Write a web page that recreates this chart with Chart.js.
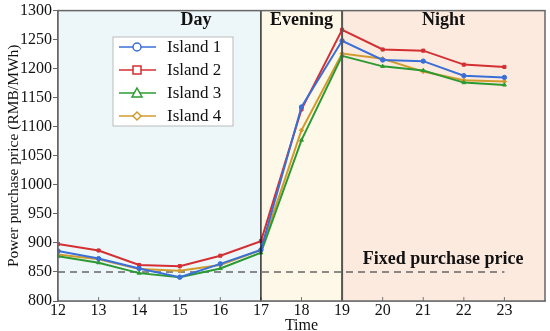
<!DOCTYPE html>
<html>
<head>
<meta charset="utf-8">
<script src="https://cdn.jsdelivr.net/npm/chart.js@4.4.1/dist/chart.umd.min.js"></script>
<style>
  html, body { margin: 0; padding: 0; background: #fff; }
  #wrap { width: 550px; height: 331px; }
</style>
</head>
<body>
<div id="wrap"><canvas id="chart" width="550" height="331"></canvas></div>
<script>
// data
var hours = [12, 13, 14, 15, 16, 17, 18, 19, 20, 21, 22, 23];
var island1 = [886, 873, 856, 841, 864, 888, 1134, 1248, 1215, 1213, 1188, 1185];
var island2 = [898, 887, 862, 860, 878, 903, 1130, 1267, 1233, 1231, 1207, 1203];
var island3 = [877, 866, 848, 841, 856, 883, 1077, 1222, 1204, 1197, 1176, 1172];
var island4 = [880, 872, 855, 852, 862, 888, 1094, 1226, 1217, 1195, 1180, 1178];
var fixedPrice = 850;
var fixedFrom = 12, fixedTo = 23;
var periodNames = ['Day', 'Evening', 'Night'];
var periodStarts = [12, 17, 19];
var periodEnds = [17, 19, 24];
var yTicks = [800, 850, 900, 950, 1000, 1050, 1100, 1150, 1200, 1250, 1300];

var periodColors = ['#edf6f9', '#fef8e8', '#fdeade'];
var serif = '"Liberation Serif", "DejaVu Serif", serif';

function pts(vals) {
    return hours.map(function(h, i) { return { x: h, y: vals[i] }; });
}

// background shading, dividers, frame and texts
var decor = {
    id: 'decor',
    beforeDatasetsDraw: function(chart) {
        var ctx = chart.ctx, a = chart.chartArea;
        var xs = chart.scales.x;
        ctx.save();
        for (var i = 0; i < periodNames.length; i++) {
            var x0 = xs.getPixelForValue(periodStarts[i]);
            var x1 = xs.getPixelForValue(periodEnds[i]);
            ctx.fillStyle = periodColors[i];
            ctx.fillRect(x0, a.top, x1 - x0, a.bottom - a.top);
        }
        // small inward ticks on the x axis
        ctx.strokeStyle = '#777';
        ctx.lineWidth = 1;
        hours.forEach(function(h) {
            var px = xs.getPixelForValue(h);
            ctx.beginPath(); ctx.moveTo(px, a.bottom); ctx.lineTo(px, a.bottom - 4); ctx.stroke();
        });
        ctx.restore();
    },
    afterDatasetsDraw: function(chart) {
        var ctx = chart.ctx, a = chart.chartArea;
        var xs = chart.scales.x, ys = chart.scales.y;
        ctx.save();
        // dividers
        var x17 = xs.getPixelForValue(periodStarts[1]);
        var x19 = xs.getPixelForValue(periodStarts[2]);
        ctx.strokeStyle = '#111';
        ctx.lineWidth = 1.3;
        ctx.beginPath(); ctx.moveTo(x17, a.top); ctx.lineTo(x17, a.bottom); ctx.stroke();
        ctx.strokeStyle = '#555';
        ctx.lineWidth = 2;
        ctx.beginPath(); ctx.moveTo(x19, a.top); ctx.lineTo(x19, a.bottom); ctx.stroke();
        // frame
        ctx.strokeStyle = '#666';
        ctx.lineWidth = 1.5;
        ctx.strokeRect(a.left, a.top, a.right - a.left, a.bottom - a.top);

        // period titles (Day sits right of its span's centre, as in the source)
        ctx.fillStyle = '#111';
        ctx.font = 'bold 18px ' + serif;
        ctx.textAlign = 'center';
        ctx.textBaseline = 'middle';
        var labelAt = [15.4, 18, 21.5];
        for (var i = 0; i < periodNames.length; i++) {
            ctx.fillText(periodNames[i], xs.getPixelForValue(labelAt[i]), a.top + 10);
        }
        ctx.font = 'bold 18px ' + serif;
        ctx.fillText('Fixed purchase price', xs.getPixelForValue(21.49), ys.getPixelForValue(fixedPrice) - 13);

        // legend box
        var lx = 113, ly = 37, lw = 120, lh = 89;
        ctx.fillStyle = '#fff';
        ctx.fillRect(lx, ly, lw, lh);
        ctx.strokeStyle = '#bbb';
        ctx.lineWidth = 1;
        ctx.strokeRect(lx, ly, lw, lh);
        ctx.font = '17px ' + serif;
        ctx.textAlign = 'left';
        for (var j = 0; j < 4; j++) {
            var ds = chart.data.datasets[j];
            var yy = ly + 10 + j * 23;
            ctx.strokeStyle = ds.borderColor;
            ctx.lineWidth = 1.5;
            ctx.beginPath(); ctx.moveTo(lx + 6, yy); ctx.lineTo(lx + 43, yy); ctx.stroke();
            var mx = lx + 24;
            ctx.fillStyle = '#fff';
            ctx.beginPath();
            if (ds.pointStyle === 'circle') {
                ctx.arc(mx, yy, 4, 0, Math.PI * 2);
                ctx.fill(); ctx.stroke();
            } else if (ds.pointStyle === 'rect') {
                ctx.fillRect(mx - 4, yy - 4, 8, 8);
                ctx.strokeRect(mx - 4, yy - 4, 8, 8);
            } else if (ds.pointStyle === 'triangle') {
                ctx.moveTo(mx, yy - 5); ctx.lineTo(mx + 5, yy + 4); ctx.lineTo(mx - 5, yy + 4); ctx.closePath();
                ctx.fill(); ctx.stroke();
            } else {
                ctx.moveTo(mx, yy - 4); ctx.lineTo(mx + 4, yy); ctx.lineTo(mx, yy + 4); ctx.lineTo(mx - 4, yy); ctx.closePath();
                ctx.fill(); ctx.stroke();
            }
            ctx.fillStyle = '#111';
            ctx.fillText(ds.label, lx + 54, yy + 1);
        }
        ctx.restore();
    }
};

function series(label, vals, color, shape) {
    return {
        label: label,
        data: pts(vals),
        borderColor: color,
        backgroundColor: color,
        borderWidth: 2,
        pointStyle: shape,
        pointRadius: 2.2,
        pointBorderWidth: 1,
        tension: 0
    };
}

new Chart(document.getElementById('chart'), {
    type: 'line',
    data: {
        datasets: [
            series('Island 1', island1, '#3a6fd8', 'circle'),
            series('Island 2', island2, '#d42f33', 'rect'),
            series('Island 3', island3, '#2c9a33', 'triangle'),
            series('Island 4', island4, '#d39b2e', 'rectRot'),
            {
                label: 'Fixed',
                data: [{ x: fixedFrom, y: fixedPrice }, { x: fixedTo, y: fixedPrice }],
                borderColor: '#666',
                borderWidth: 1.5,
                borderDash: [7, 5],
                pointRadius: 0
            }
        ]
    },
    options: {
        responsive: false,
        animation: false,
        layout: { padding: { top: 10, right: 4, left: 0, bottom: 0 } },
        plugins: { legend: { display: false }, tooltip: { enabled: false } },
        scales: {
            x: {
                type: 'linear',
                min: 12, max: 24,
                afterFit: function(s) { s.height = 30; },
                afterBuildTicks: function(s) {
                    s.ticks = hours.map(function(h) { return { value: h }; });
                },
                ticks: { color: '#111', font: { family: serif, size: 16 }, padding: 0 },
                grid: { drawOnChartArea: false, drawTicks: false, tickLength: 1 },
                border: { color: '#666', width: 1.5 },
                title: { display: true, text: 'Time', color: '#111', font: { family: serif, size: 16 }, padding: { top: 0, bottom: -4 } }
            },
            y: {
                min: 800, max: 1300,
                afterFit: function(s) { s.width = 58; },
                afterBuildTicks: function(s) {
                    s.ticks = yTicks.map(function(v) { return { value: v }; });
                },
                ticks: {
                    color: '#111', font: { family: serif, size: 16 }, padding: 1,
                    callback: function(v) { return String(v); }
                },
                grid: { drawOnChartArea: false, tickLength: 5, color: '#666' },
                border: { color: '#666', width: 1.5 },
                title: { display: true, text: 'Power purchase price (RMB/MWh)', color: '#111', font: { family: serif, size: 15.5 }, padding: { top: 5, bottom: 0 } }
            }
        }
    },
    plugins: [decor]
});
</script>
</body>
</html>
